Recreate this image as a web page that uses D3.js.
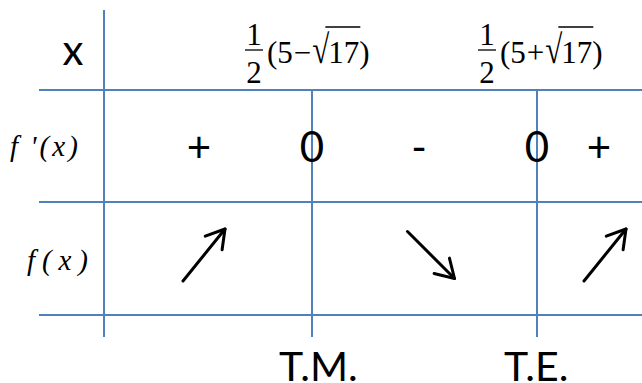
<!DOCTYPE html>
<html>
<head>
<meta charset="utf-8">
<script src="https://cdn.jsdelivr.net/npm/d3@7"></script>
<style>
  html, body { margin: 0; padding: 0; background: #fff; }
  svg { display: block; }
</style>
</head>
<body>
<div id="chart"></div>
<script>
// Variation table of f, critical points at 1/2(5 - sqrt17) and 1/2(5 + sqrt17)

const rowLabels = ['x', "f\u2009'(x)", 'f(x)'];
const criticalPoints = [
    { num: '1', den: '2', base: '5', op: '\u2212', root: '17' },
    { num: '1', den: '2', base: '5', op: '+', root: '17' }
];
// sign row: interval, zero, interval, zero, interval
const derivSigns = ['+', '0', '-', '0', '+'];
const variations = ['up', 'down', 'up'];
const extremaLabels = ['T.M.', 'T.E.'];

const width = 642;
const height = 383;
const gridColor = '#4f81bd';
const sans = 'Lato, Liberation Sans, Arial, sans-serif';
const serif = 'Liberation Serif, Times New Roman, serif';

// layout of the table (pixels)
const rows = { top: 10, line1: 90, line2: 202, line3: 315, bottom: 337 };
const leftLine = 104;
const lineStart = 39;

// slot 0..4 : interval / critical point / interval / critical point / interval
const slotX = d3.scaleLinear().domain([0, 1, 2, 3, 4]).range([199, 312, 419, 537, 599]);
const arrowX = d3.scaleOrdinal().domain([0, 1, 2]).range([204, 431, 605]);
const exprOffset = [-67, -59];

const svg = d3.select('#chart')
    .append('svg')
    .attr('width', width)
    .attr('height', height);

// grid
const grid = svg.append('g')
    .attr('stroke', gridColor)
    .attr('stroke-width', 2);

[rows.line1, rows.line2, rows.line3].forEach(y => {
    grid.append('line')
        .attr('x1', lineStart).attr('x2', width)
        .attr('y1', y).attr('y2', y);
});

grid.append('line')
    .attr('x1', leftLine).attr('x2', leftLine)
    .attr('y1', rows.top).attr('y2', rows.bottom);

criticalPoints.forEach((p, i) => {
    const x = slotX(2 * i + 1);
    grid.append('line')
        .attr('x1', x).attr('x2', x)
        .attr('y1', rows.line1).attr('y2', rows.bottom);
});

// row labels
svg.append('text')
    .attr('x', 73).attr('y', 65)
    .attr('text-anchor', 'middle')
    .attr('font-family', sans)
    .attr('font-size', 42)
    .text(rowLabels[0]);

svg.append('text')
    .attr('x', 10).attr('y', 156)
    .attr('font-family', serif)
    .attr('font-style', 'italic')
    .attr('font-size', 29)
    .attr('textLength', 68)
    .attr('lengthAdjust', 'spacing')
    .text(rowLabels[1]);

svg.append('text')
    .attr('x', 27).attr('y', 270)
    .attr('font-family', serif)
    .attr('font-style', 'italic')
    .attr('font-size', 29)
    .attr('textLength', 61)
    .attr('lengthAdjust', 'spacing')
    .text(rowLabels[2]);

// critical point expressions: 1/2 (5 -/+ sqrt(17))
const exprSize = 31;

criticalPoints.forEach((p, i) => {
    const g = svg.append('g')
        .attr('transform', `translate(${slotX(2 * i + 1) + exprOffset[i]},0)`)
        .attr('font-family', serif)
        .attr('font-size', exprSize)
        .attr('fill', '#000');

    g.append('text').attr('x', 9).attr('y', 45).attr('text-anchor', 'middle').text(p.num);
    g.append('line')
        .attr('x1', 0).attr('x2', 18)
        .attr('y1', 50).attr('y2', 50)
        .attr('stroke', '#000').attr('stroke-width', 1.3);
    g.append('text').attr('x', 9).attr('y', 83).attr('text-anchor', 'middle').text(p.den);

    let cx = 22;
    const put = (s, opts = {}) => {
        const t = g.append('text').attr('x', cx).attr('y', 63).text(s);
        if (opts.scaleY) {
            t.attr('transform', `translate(0,63) scale(1,${opts.scaleY}) translate(0,-63)`);
        }
        const w = t.node().getComputedTextLength();
        const start = cx;
        cx += w + (opts.gap || 0);
        return { start, end: cx };
    };
    put('(');
    put(p.base, { gap: 1 });
    put(p.op, { gap: 1 });
    const rad = put('\u221a', { scaleY: 1.3, gap: -1 });
    const r = put(p.root);
    put(')');

    g.append('line')
        .attr('x1', rad.end - 3).attr('x2', r.end + 1)
        .attr('y1', 27).attr('y2', 27)
        .attr('stroke', '#000').attr('stroke-width', 1.3);
});

// sign of f'
svg.append('g')
    .selectAll('text')
    .data(derivSigns)
    .join('text')
    .attr('x', (d, i) => slotX(i))
    .attr('y', 162)
    .attr('text-anchor', 'middle')
    .attr('font-family', sans)
    .attr('font-size', 42)
    .attr('fill', '#000')
    .text(d => d);

// variation arrows
const arrowGeom = {
    up: { dx: 21, dy: -26 },
    down: { dx: 23.5, dy: 23.5 }
};

const arrows = svg.append('g')
    .attr('stroke', '#000')
    .attr('stroke-width', 3)
    .attr('stroke-linecap', 'round')
    .attr('stroke-linejoin', 'round')
    .attr('fill', 'none');

variations.forEach((v, i) => {
    const cx = arrowX(i);
    const cy = 255;
    const gm = arrowGeom[v];
    const x0 = cx - gm.dx, y0 = cy - gm.dy;
    const x1 = cx + gm.dx, y1 = cy + gm.dy;
    const ang = Math.atan2(y0 - y1, x0 - x1);
    const arm = 21, spread = 31 * Math.PI / 180;
    arrows.append('path')
        .attr('d', d3.line()([[x0, y0], [x1, y1]]));
    arrows.append('path')
        .attr('d', d3.line()([
            [x1 + arm * Math.cos(ang + spread), y1 + arm * Math.sin(ang + spread)],
            [x1, y1],
            [x1 + arm * Math.cos(ang - spread), y1 + arm * Math.sin(ang - spread)]
        ]));
});

// extremum labels
svg.append('g')
    .selectAll('text')
    .data(extremaLabels)
    .join('text')
    .attr('x', (d, i) => slotX(2 * i + 1) - 33)
    .attr('y', 381)
    .attr('font-family', sans)
    .attr('font-size', 41)
    .attr('fill', '#000')
    .text(d => d);
</script>
</body>
</html>
